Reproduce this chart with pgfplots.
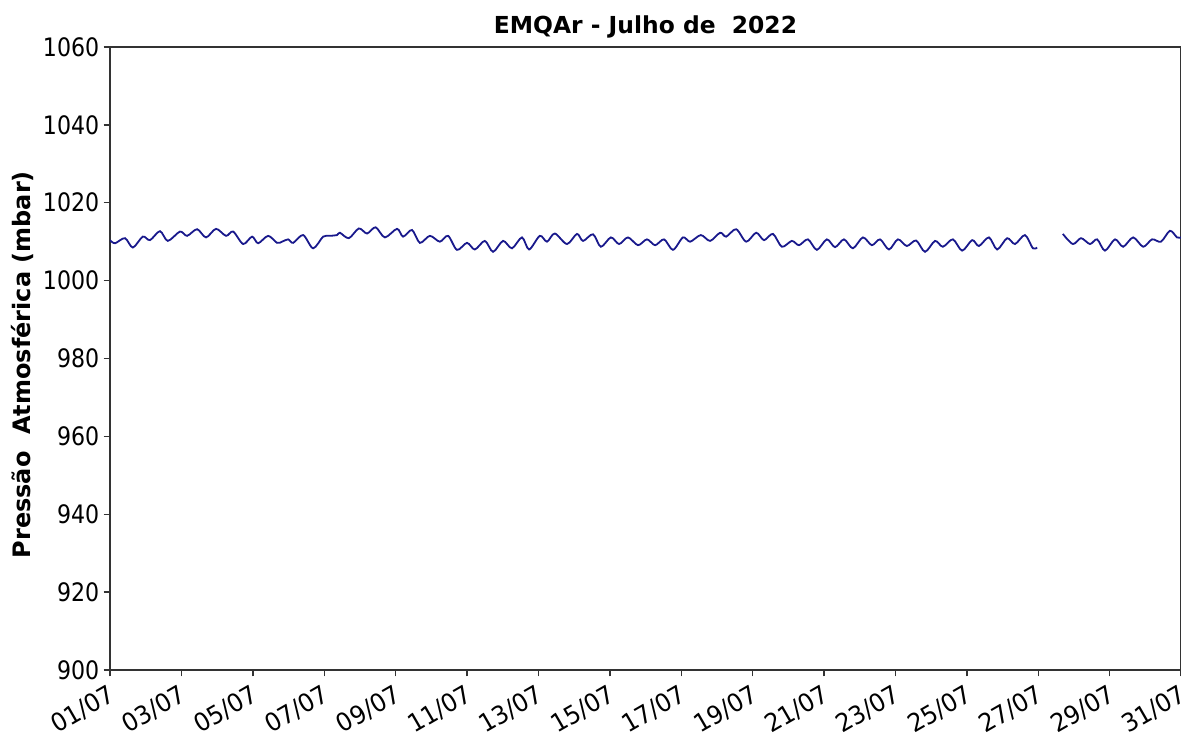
\documentclass[border=0pt]{standalone}
\usepackage{fontspec}
\setmainfont{DejaVu Sans}
\newfontfamily\tickfont{DejaVu Sans}[FakeStretch=0.87]
\newfontfamily\xtickfont{DejaVu Sans}[FakeStretch=0.95]
\usepackage{pgfplots}
\pgfplotsset{compat=1.18}
\definecolor{linec}{RGB}{25,25,140}
\begin{document}
\begin{tikzpicture}
\begin{axis}[
  scale only axis,
  width=535.5pt, height=311.5pt,
  xmin=1, xmax=31, ymin=900, ymax=1060,
  xtick={1,3,...,31},
  xticklabels={01/07,03/07,05/07,07/07,09/07,11/07,13/07,15/07,17/07,19/07,21/07,23/07,25/07,27/07,29/07,31/07},
  ytick={900,920,...,1060},
  tick pos=left, tick align=outside,
  major tick length=3.2pt,
  axis line style={black!80, line width=0.7pt},
  tick style={black!80, line width=0.7pt},
  /pgf/number format/1000 sep={},
  /pgf/number format/assume math mode=true,
  yticklabel style={font=\tickfont\fontsize{12.7}{15}\selectfont, inner sep=2pt},
  xticklabel style={font=\xtickfont\fontsize{12.5}{15}\selectfont, rotate=30, anchor=north east, inner sep=1pt, xshift=-1pt},
  xticklabel shift=1.5pt,
  title={EMQAr - Julho de\ \ 2022},
  title style={font=\bfseries\fontsize{11.7}{14}\selectfont, at={(0.5,1)}, anchor=south, yshift=-5pt},
  ylabel={Pressão\ \ Atmosférica (mbar)},
  ylabel style={font=\bfseries\fontsize{12}{14}\selectfont, at={(axis description cs:-0.065,0.49)}, anchor=south},
]
\addplot[linec, line width=0.9pt, smooth, tension=0.5, mark=none] coordinates {
(1.00,1010.4) (1.14,1009.6) (1.42,1010.9) (1.64,1008.5) (1.92,1011.3)
(2.12,1010.4) (2.40,1012.7) (2.62,1010.2) (2.96,1012.6) (3.16,1011.5)
(3.44,1013.2) (3.69,1011.1) (3.97,1013.3) (4.25,1011.5) (4.45,1012.6)
(4.73,1009.4) (4.98,1011.3) (5.15,1009.6) (5.43,1011.5) (5.68,1009.7)
(5.82,1010.0) (5.99,1010.6) (6.13,1009.7) (6.41,1011.7) (6.69,1008.3)
(6.97,1011.3) (7.16,1011.5) (7.36,1011.7) (7.44,1012.3) (7.69,1010.9)
(7.97,1013.4) (8.20,1012.1) (8.44,1013.7) (8.70,1011.1) (9.04,1013.3)
(9.21,1011.3) (9.46,1013.0) (9.68,1009.7) (9.96,1011.5) (10.24,1010.0)
(10.47,1011.5) (10.72,1007.9) (11.00,1009.7) (11.22,1008.0) (11.50,1010.2)
(11.73,1007.4) (12.01,1010.2) (12.26,1008.3) (12.54,1011.1) (12.74,1008.0)
(13.04,1011.5) (13.24,1010.0) (13.46,1012.1) (13.80,1009.4) (14.08,1012.0)
(14.25,1010.2) (14.53,1011.9) (14.75,1008.7) (15.03,1011.1) (15.26,1009.4)
(15.51,1011.1) (15.79,1009.1) (16.04,1010.6) (16.27,1009.1) (16.52,1010.6)
(16.77,1007.9) (17.05,1011.1) (17.25,1010.0) (17.55,1011.7) (17.81,1010.2)
(18.09,1012.3) (18.26,1011.3) (18.54,1013.2) (18.82,1010.0) (19.10,1012.3)
(19.32,1010.4) (19.57,1012.0) (19.82,1008.7) (20.10,1010.2) (20.30,1009.1)
(20.55,1010.6) (20.80,1007.9) (21.08,1010.6) (21.31,1008.6) (21.56,1010.6)
(21.81,1008.3) (22.09,1011.1) (22.34,1009.1) (22.57,1010.6) (22.82,1008.0)
(23.07,1010.6) (23.32,1008.9) (23.58,1010.3) (23.83,1007.4) (24.11,1010.2)
(24.33,1008.7) (24.61,1010.6) (24.87,1007.7) (25.15,1010.4) (25.34,1008.9)
(25.62,1011.1) (25.85,1008.0) (26.13,1010.9) (26.35,1009.4) (26.63,1011.7)
(26.85,1008.3) (26.97,1008.5)
};
\addplot[linec, line width=0.9pt, smooth, tension=0.5, mark=none] coordinates {
(27.69,1012.0) (27.97,1009.4) (28.20,1010.9) (28.45,1009.4) (28.65,1010.6)
(28.87,1007.7) (29.15,1010.6) (29.38,1008.7) (29.66,1011.1) (29.94,1008.7)
(30.19,1010.6) (30.44,1010.0) (30.69,1012.8) (30.89,1011.1) (31.00,1011.1)
};
\end{axis}
\pgfresetboundingbox
\useasboundingbox ([shift={(-55pt,-34.5pt)}]current axis.south west) rectangle ([shift={(0pt,23.5pt)}]current axis.north east);
\end{tikzpicture}
\end{document}
